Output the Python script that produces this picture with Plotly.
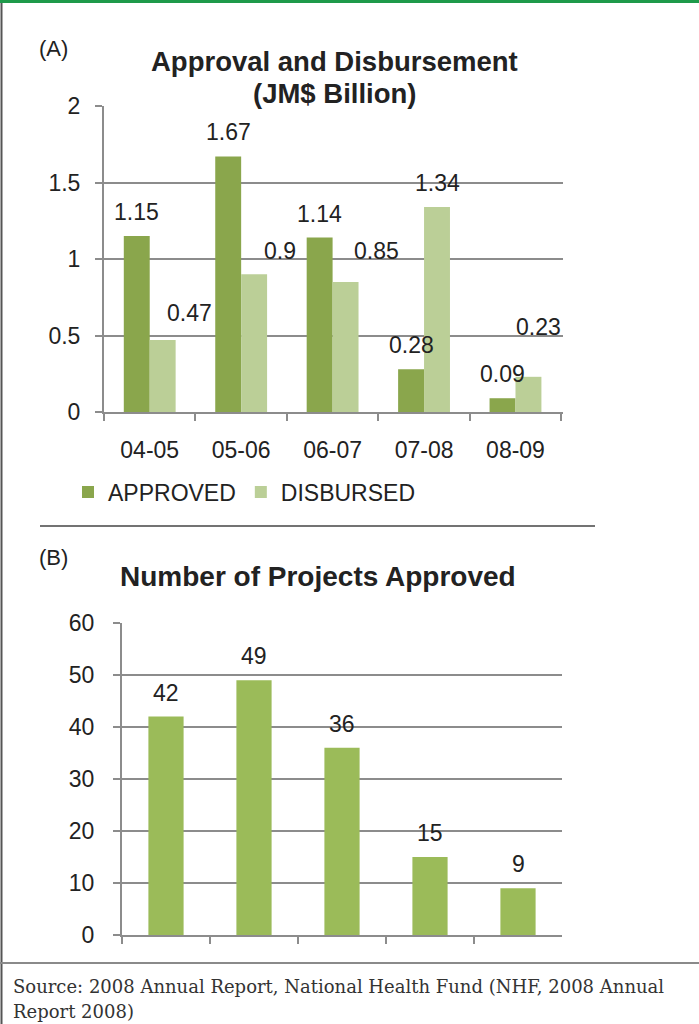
import plotly.graph_objects as go

# ---- data ----
years = ["04-05", "05-06", "06-07", "07-08", "08-09"]
approved = [1.15, 1.67, 1.14, 0.28, 0.09]
disbursed = [0.47, 0.90, 0.85, 1.34, 0.23]
projects = [42, 49, 36, 15, 9]

# label nudges (px) as placed in the original chart
disb_dx = [27, 26, 31, 0, 10]
disb_dy = [27, 23, 31, 24, 50]

W, H = 699, 1024
FONT = "Liberation Sans, Arial, sans-serif"
TXT = "#222222"
GRID = "#8c8c8c"
C_APP = "#8AA64C"
C_DIS = "#BBCF97"
C_PRJ = "#9BBB59"
FS = 23


def px_x(p):
    return p / W


def px_y(p):
    return 1 - p / H


# axis geometry (pixels)
A_x0, A_x1, A_y0, A_y1 = 104, 563, 412, 106
B_x0, B_x1, B_y0, B_y1 = 122, 562, 935, 623
A_gap = 0.433
B_gap = 0.6

fig = go.Figure()
fig.add_trace(go.Bar(x=years, y=approved, name="APPROVED", marker=dict(color=C_APP, line=dict(width=0)),
                     xaxis="x", yaxis="y"))
fig.add_trace(go.Bar(x=years, y=disbursed, name="DISBURSED", marker=dict(color=C_DIS, line=dict(width=0)),
                     xaxis="x", yaxis="y"))
fig.add_trace(go.Bar(x=years, y=projects, name="Projects", showlegend=False,
                     marker=dict(color=C_PRJ, line=dict(width=0)), xaxis="x2", yaxis="y2", width=1 - B_gap))

annotations = []
catA = (A_x1 - A_x0) / len(years)
half = catA * (1 - A_gap) / 4
lab_font = dict(family=FONT, size=FS, color=TXT)
for i, y in enumerate(years):
    annotations.append(dict(x=y, y=approved[i], xref="x", yref="y", text=str(approved[i]),
                            showarrow=False, xshift=-half, yshift=24, xanchor="center", yanchor="middle",
                            font=lab_font))
    annotations.append(dict(x=y, y=disbursed[i], xref="x", yref="y", text=f"{disbursed[i]:g}",
                            showarrow=False, xshift=half + disb_dx[i], yshift=disb_dy[i],
                            xanchor="center", yanchor="middle", font=lab_font))
    annotations.append(dict(x=y, y=projects[i], xref="x2", yref="y2", text=str(projects[i]),
                            showarrow=False, yshift=24, xanchor="center", yanchor="middle", font=lab_font))

# titles and panel letters
annotations += [
    dict(x=px_x(334), y=px_y(61), xref="paper", yref="paper", showarrow=False, xanchor="center",
         yanchor="middle", text="<b>Approval and Disbursement</b>", font=dict(family=FONT, size=27.5, color=TXT)),
    dict(x=px_x(334), y=px_y(93), xref="paper", yref="paper", showarrow=False, xanchor="center",
         yanchor="middle", text="<b>(JM$ Billion)</b>", font=dict(family=FONT, size=27.5, color=TXT)),
    dict(x=px_x(53), y=px_y(48), xref="paper", yref="paper", showarrow=False, xanchor="center",
         yanchor="middle", text="(A)", font=dict(family=FONT, size=22, color=TXT)),
    dict(x=px_x(318), y=px_y(576), xref="paper", yref="paper", showarrow=False, xanchor="center",
         yanchor="middle", text="<b>Number of Projects Approved</b>", font=dict(family=FONT, size=28, color=TXT)),
    dict(x=px_x(53), y=px_y(557), xref="paper", yref="paper", showarrow=False, xanchor="center",
         yanchor="middle", text="(B)", font=dict(family=FONT, size=22, color=TXT)),
    dict(x=px_x(11), y=px_y(986), xref="paper", yref="paper", showarrow=False, xanchor="left",
         yanchor="middle", text="Source: 2008 Annual Report, National Health Fund (NHF, 2008 Annual",
         font=dict(family="DejaVu Serif, serif", size=18, color="#333333")),
    dict(x=px_x(11), y=px_y(1011), xref="paper", yref="paper", showarrow=False, xanchor="left",
         yanchor="middle", text="Report 2008)", font=dict(family="DejaVu Serif, serif", size=18, color="#333333")),
]

shapes = [
    dict(type="rect", xref="paper", yref="paper", x0=0, x1=1, y0=px_y(3), y1=1,
         fillcolor="#1E9A4A", line=dict(width=0), layer="above"),
    dict(type="line", xref="paper", yref="paper", x0=px_x(1.5), x1=px_x(1.5), y0=0, y1=px_y(3),
         line=dict(color="#555555", width=2)),
    dict(type="line", xref="paper", yref="paper", x0=0, x1=1, y0=px_y(963), y1=px_y(963),
         line=dict(color="#8a8a8a", width=2)),
    dict(type="line", xref="paper", yref="paper", x0=px_x(40), x1=px_x(595), y0=px_y(526), y1=px_y(526),
         line=dict(color="#444444", width=1.5)),
]

axis_common = dict(showline=True, linecolor=GRID, linewidth=2, ticks="outside",
                   tickcolor=GRID, tickwidth=2, ticklen=7,
                   tickfont=dict(family=FONT, size=FS, color=TXT), zeroline=False, automargin=False)

fig.update_layout(
    width=W, height=H, margin=dict(l=0, r=0, t=0, b=0, pad=0, autoexpand=False),
    paper_bgcolor="white", plot_bgcolor="white",
    barmode="group", bargap=A_gap, bargroupgap=0,
    showlegend=True,
    legend=dict(orientation="h", x=px_x(68), y=px_y(492), xanchor="left", yanchor="middle",
                font=dict(family=FONT, size=FS, color=TXT), bgcolor="rgba(0,0,0,0)",
                traceorder="normal"),
    xaxis=dict(type="category", domain=[px_x(A_x0), px_x(A_x1)], anchor="y", tickson="boundaries",
               showgrid=False, ticklabelstandoff=16, **axis_common),
    yaxis=dict(domain=[px_y(A_y0), px_y(A_y1)], anchor="x", range=[0, 2], tickvals=[0, 0.5, 1, 1.5, 2],
               ticktext=["0", "0.5", "1", "1.5", "2"], showgrid=True, gridcolor=GRID, gridwidth=1.5,
               ticklabelstandoff=10, **axis_common),
    xaxis2=dict(type="category", domain=[px_x(B_x0), px_x(B_x1)], anchor="y2", tickson="boundaries",
                showgrid=False, showticklabels=False, **axis_common),
    yaxis2=dict(domain=[px_y(B_y0), px_y(B_y1)], anchor="x2", range=[0, 60], dtick=10,
                showgrid=True, gridcolor=GRID, gridwidth=1.5, ticklabelstandoff=14, **axis_common),
    annotations=annotations,
    shapes=shapes,
)

fig.write_html(
    "out.html",
    config={"displayModeBar": False},
    post_script="document.documentElement.style.margin='0';document.body.style.margin='0';"
                "document.body.style.overflow='hidden';document.documentElement.style.overflow='hidden';"
                "var gd=document.getElementById('{plot_id}');gd.style.position='fixed';"
                "gd.style.top='0px';gd.style.left='0px';",
)
